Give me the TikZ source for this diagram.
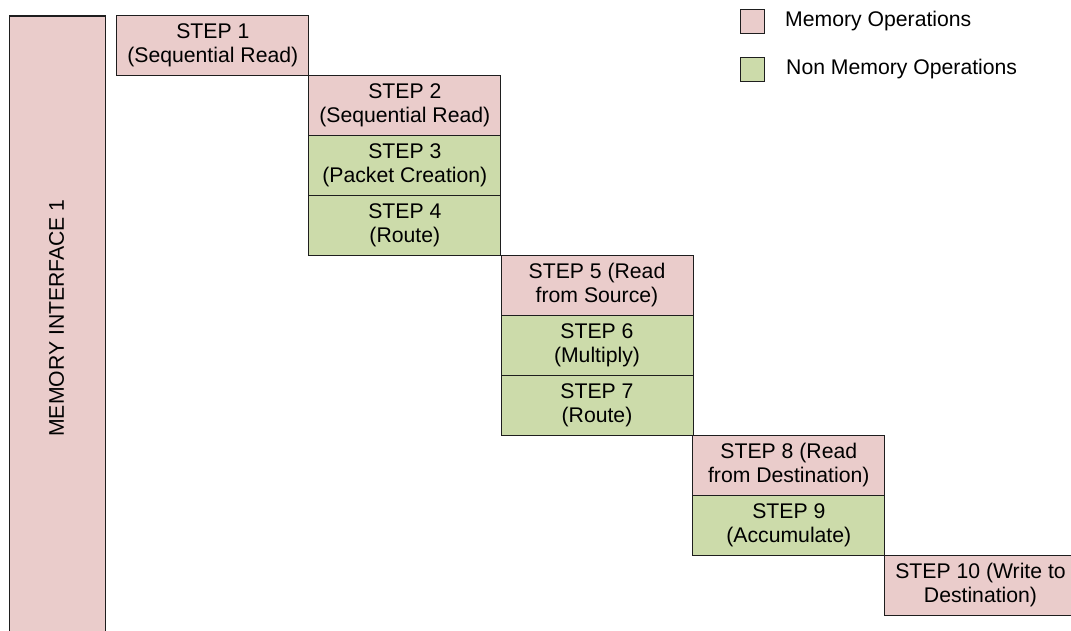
\documentclass[tikz,border=0pt]{standalone}
\usepackage{fontspec}
\setmainfont{Liberation Sans}
\definecolor{mempink}{RGB}{234,204,203}
\definecolor{opgreen}{RGB}{204,219,170}
\definecolor{edge}{RGB}{30,30,30}
\begin{document}
\begin{tikzpicture}[x=1pt,y=-1pt,
  txt/.style={font=\fontsize{21.2}{24}\selectfont},
  stepbox/.style={txt,draw=edge,line width=1pt,rectangle,anchor=north west,
    minimum width=192pt,minimum height=60pt,inner sep=0pt,align=center},
  membox/.style={stepbox,fill=mempink},
  nonbox/.style={stepbox,fill=opgreen},
  legbox/.style={draw=edge,line width=0.8pt,rectangle,minimum width=24pt,minimum height=24pt,inner sep=0pt},
  legtxt/.style={txt,anchor=west,inner sep=0pt}]
\path[use as bounding box,clip] (0,0) rectangle (1071,631);
\fill[white] (0,0) rectangle (1071,631);
% memory interface bar
\node[draw=edge,line width=1.6pt,fill=mempink,rectangle,anchor=north west,
  minimum width=96pt,minimum height=640pt,inner sep=0pt] (mem) at (8.5,15) {};
\node[txt,rotate=90] (memlabel) at (56.5,318) {MEMORY INTERFACE 1};
% steps
\node[membox] (s1) at (116.3,15) {STEP 1\\(Sequential Read)};
\node[membox] (s2) at (308.3,75) {STEP 2\\(Sequential Read)};
\node[nonbox] (s3) at (308.3,135) {STEP 3\\(Packet Creation)};
\node[nonbox] (s4) at (308.3,195) {STEP 4\\(Route)};
\node[membox] (s5) at (500.5,255) {STEP 5 (Read\\from Source)};
\node[nonbox] (s6) at (500.5,315) {STEP 6\\(Multiply)};
\node[nonbox] (s7) at (500.5,375) {STEP 7\\(Route)};
\node[membox] (s8) at (692.3,435) {STEP 8 (Read\\from Destination)};
\node[nonbox] (s9) at (692.3,495) {STEP 9\\(Accumulate)};
\node[membox] (s10) at (884,555) {STEP 10 (Write to\\Destination)};
% legend
\node[legbox,fill=mempink] (lg1) at (752,21) {};
\node[legtxt] (lt1) at (785,21) {Memory Operations};
\node[legbox,fill=opgreen] (lg2) at (752,69) {};
\node[legtxt] (lt2) at (786,69) {Non Memory Operations};
\end{tikzpicture}
\end{document}
